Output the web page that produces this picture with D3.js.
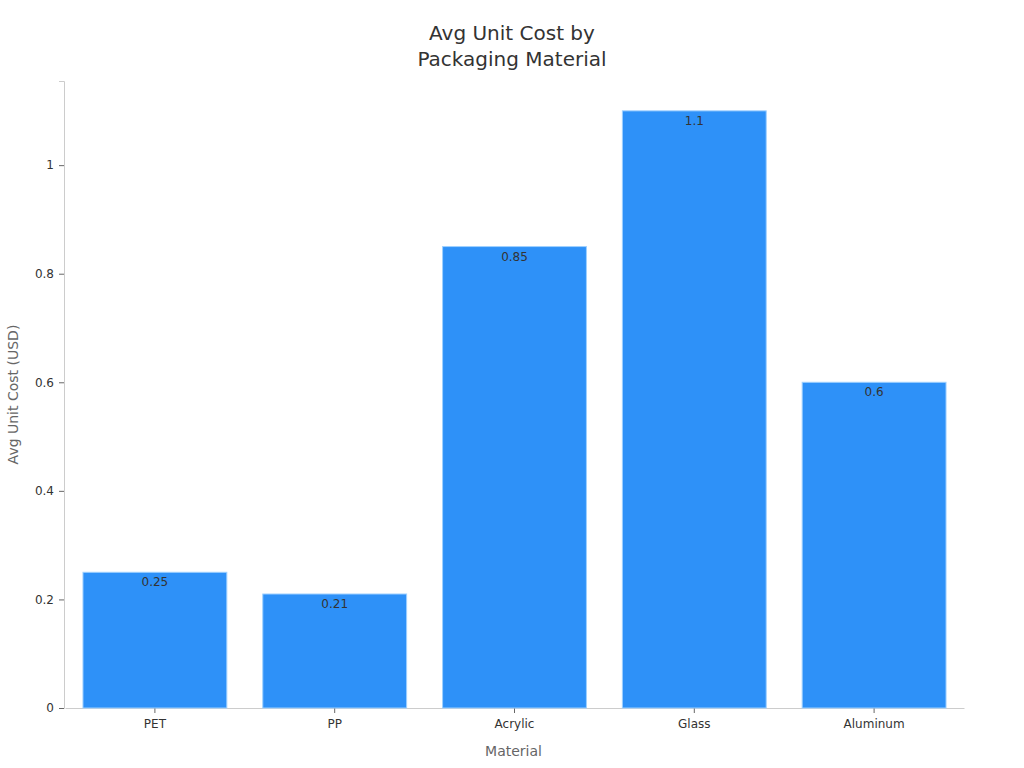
<!DOCTYPE html>
<html>
<head>
<meta charset="utf-8">
<script src="https://cdn.jsdelivr.net/npm/d3@7"></script>
<style>
  body { margin: 0; background: #fff; font-family: "DejaVu Sans", sans-serif; }
</style>
</head>
<body>
<div id="chart"></div>
<script>
// Chart data
const materials = ["PET", "PP", "Acrylic", "Glass", "Aluminum"];
const unitCosts = [0.25, 0.21, 0.85, 1.1, 0.6];
const yTicks = [0, 0.2, 0.4, 0.6, 0.8, 1];

const WIDTH = 1024;
const HEIGHT = 768;
const margin = { top: 81, right: 61, bottom: 60, left: 64 };

const svg = d3.select("#chart")
  .append("svg")
  .attr("width", WIDTH)
  .attr("height", HEIGHT);

const innerW = WIDTH - margin.left - margin.right;
const innerH = HEIGHT - margin.top - margin.bottom;

const x = d3.scaleBand()
  .domain(materials)
  .range([margin.left + 1, margin.left + innerW + 1])
  .paddingInner(0.2)
  .paddingOuter(0.1);

const y = d3.scaleLinear()
  .domain([0, d3.max(unitCosts) * 1.05])
  .range([margin.top + innerH, margin.top]);

// Title
svg.append("text")
  .attr("x", WIDTH / 2)
  .attr("text-anchor", "middle")
  .attr("fill", "#333")
  .style("font-size", "20px")
  .selectAll("tspan")
  .data(["Avg Unit Cost by", "Packaging Material"])
  .enter()
  .append("tspan")
  .attr("x", WIDTH / 2)
  .attr("y", (d, i) => 40 + i * 26)
  .text(d => d);

// Y axis
const yAxis = svg.append("g")
  .attr("transform", `translate(${margin.left},0)`)
  .call(d3.axisLeft(y).tickValues(yTicks).tickSize(5).tickPadding(5).tickFormat(d => d3.format("~g")(d)));
yAxis.select(".domain").attr("stroke", "#ccc");
yAxis.selectAll(".tick line").attr("stroke", "#666");
yAxis.selectAll(".tick text").attr("fill", "#333").style("font-size", "12px").style("font-family", "DejaVu Sans");

// X axis
const xAxis = svg.append("g")
  .attr("transform", `translate(0,${margin.top + innerH})`)
  .call(d3.axisBottom(x).tickSize(5).tickPadding(6).tickSizeOuter(0));
xAxis.select(".domain").attr("stroke", "#ccc");
xAxis.selectAll(".tick line").attr("stroke", "#666");
xAxis.selectAll(".tick text").attr("fill", "#333").style("font-size", "12px").style("font-family", "DejaVu Sans");

// Bars
svg.selectAll("rect.bar")
  .data(materials)
  .enter()
  .append("rect")
  .attr("class", "bar")
  .attr("x", d => x(d))
  .attr("y", (d, i) => y(unitCosts[i]))
  .attr("width", x.bandwidth())
  .attr("height", (d, i) => y(0) - y(unitCosts[i]))
  .attr("fill", "#2e91f8")
  .attr("stroke", "#9ed0ff")
  .attr("stroke-width", 1);

// Value labels
svg.selectAll("text.value")
  .data(materials)
  .enter()
  .append("text")
  .attr("class", "value")
  .attr("x", d => x(d) + x.bandwidth() / 2)
  .attr("y", (d, i) => y(unitCosts[i]) + 14)
  .attr("text-anchor", "middle")
  .attr("fill", "#333")
  .style("font-size", "12px")
  .text((d, i) => unitCosts[i]);

// Axis titles
svg.append("text")
  .attr("x", margin.left + innerW / 2)
  .attr("y", 756)
  .attr("text-anchor", "middle")
  .attr("fill", "#666")
  .style("font-size", "14px")
  .text("Material");

svg.append("text")
  .attr("transform", `translate(18,${margin.top + innerH / 2}) rotate(-90)`)
  .attr("text-anchor", "middle")
  .attr("fill", "#666")
  .style("font-size", "14px")
  .text("Avg Unit Cost (USD)");
</script>
</body>
</html>
